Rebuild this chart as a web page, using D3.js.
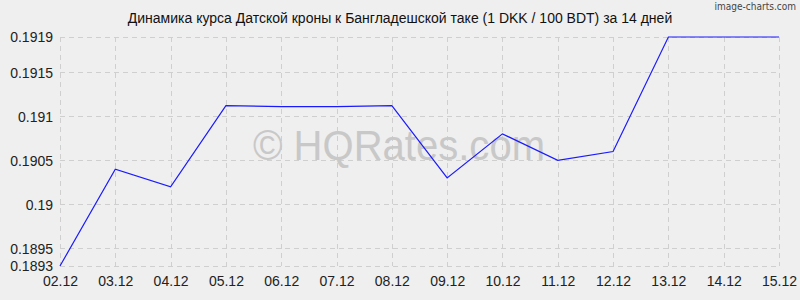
<!DOCTYPE html>
<html>
<head>
<meta charset="utf-8">
<script src="https://cdn.jsdelivr.net/npm/d3@7"></script>
<style>
  body { margin: 0; background: #efefef; }
  svg { display: block; font-family: "Liberation Sans", Arial, sans-serif; }
</style>
</head>
<body>
<div id="chart"></div>
<script>
// Data
const dates = ["02.12", "03.12", "04.12", "05.12", "06.12", "07.12", "08.12",
               "09.12", "10.12", "11.12", "12.12", "13.12", "14.12", "15.12"];
const rates = [0.1893, 0.1904, 0.1902, 0.19112, 0.19111, 0.19111, 0.19112,
               0.1903, 0.1908, 0.1905, 0.1906, 0.1919, 0.1919, 0.1919];
const yTicks = [0.1893, 0.1895, 0.19, 0.1905, 0.191, 0.1915, 0.1919];
const yTickLabels = ["0.1893", "0.1895", "0.19", "0.1905", "0.191", "0.1915", "0.1919"];

const width = 800, height = 300;
const padding = {top: 37, right: 21, bottom: 34, left: 60};

const svg = d3.select("#chart").append("svg")
    .attr("width", width)
    .attr("height", height);

svg.append("rect").attr("width", width).attr("height", height).attr("fill", "#efefef");

const xScale = d3.scalePoint()
    .domain(dates)
    .range([padding.left, width - padding.right]);

const yScale = d3.scaleLinear()
    .domain([0.1893, 0.1919])
    .range([height - padding.bottom, padding.top]);

// Grid lines
svg.append("g")
    .selectAll("line")
    .data(yTicks)
    .enter().append("line")
    .attr("x1", padding.left)
    .attr("x2", width - padding.right)
    .attr("y1", d => Math.round(yScale(d)) + 0.5)
    .attr("y2", d => Math.round(yScale(d)) + 0.5)
    .attr("stroke", "#cfcfcf")
    .attr("stroke-dasharray", "5,4");

svg.append("g")
    .selectAll("line")
    .data(dates)
    .enter().append("line")
    .attr("x1", d => Math.round(xScale(d)) + 0.5)
    .attr("x2", d => Math.round(xScale(d)) + 0.5)
    .attr("y1", padding.top)
    .attr("y2", height - padding.bottom)
    .attr("stroke", "#cfcfcf")
    .attr("stroke-dasharray", "5,4");

// Watermark
svg.append("text")
    .attr("x", 253)
    .attr("y", 160)
    .attr("font-size", 42)
    .attr("textLength", 292)
    .attr("lengthAdjust", "spacingAndGlyphs")
    .attr("fill", "#c8c8c8")
    .text("© HQRates.com");

// Y axis labels
const yAxis = svg.append("g")
    .attr("transform", "translate(" + (padding.left - 4) + ",0)")
    .call(d3.axisLeft(yScale).tickValues(yTicks).tickSize(0).tickFormat((d, i) => yTickLabels[i]));
yAxis.select(".domain").remove();
yAxis.selectAll("text")
    .attr("font-size", 14)
    .attr("font-family", "'Liberation Sans', Arial, sans-serif")
    .attr("fill", "#222")
    .attr("dy", "0.35em");

// X axis labels
const xAxis = svg.append("g")
    .attr("transform", "translate(0," + (height - padding.bottom) + ")")
    .call(d3.axisBottom(xScale).tickSize(0).tickPadding(10));
xAxis.select(".domain").remove();
xAxis.selectAll("text")
    .attr("font-size", 14)
    .attr("font-family", "'Liberation Sans', Arial, sans-serif")
    .attr("fill", "#222");

// Line
const line = d3.line()
    .x((d, i) => xScale(dates[i]))
    .y(d => yScale(d));

svg.append("path")
    .datum(rates)
    .attr("d", line)
    .attr("fill", "none")
    .attr("stroke", "#1a1aff")
    .attr("stroke-width", 1.2);

// Title
svg.append("text")
    .attr("x", 400)
    .attr("y", 23)
    .attr("text-anchor", "middle")
    .attr("font-size", 14)
    .attr("fill", "#111")
    .text("Динамика курса Датской кроны к Бангладешской таке (1 DKK / 100 BDT) за 14 дней");

svg.append("text")
    .attr("x", 796)
    .attr("y", 10)
    .attr("text-anchor", "end")
    .attr("font-size", 10)
    .attr("font-family", "'DejaVu Sans Condensed', sans-serif")
    .attr("fill", "#444")
    .text("image-charts.com");
</script>
</body>
</html>
